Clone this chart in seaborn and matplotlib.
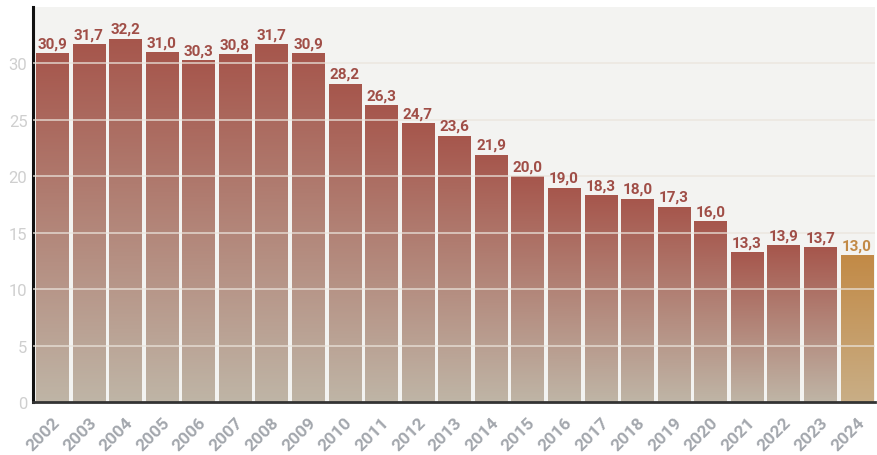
import numpy as np
import pandas as pd
import matplotlib
matplotlib.use("Agg")
import matplotlib.pyplot as plt
from matplotlib.colors import LinearSegmentedColormap
import seaborn as sns

# data
years = [str(y) for y in range(2002, 2025)]
values = [30.9, 31.7, 32.2, 31.0, 30.3, 30.8, 31.7, 30.9, 28.2, 26.3, 24.7,
          23.6, 21.9, 20.0, 19.0, 18.3, 18.0, 17.3, 16.0, 13.3, 13.9, 13.7, 13.0]
labels = [f"{v:.1f}".replace(".", ",") for v in values]

df = pd.DataFrame({"year": years, "value": values})

sns.set_theme(style="white")
plt.rcParams["font.family"] = ["Roboto", "DejaVu Sans"]

fig = plt.figure(figsize=(8.78, 4.56), dpi=100)
ax = fig.add_axes([0.0376, 0.1162, 0.959, 0.8663])
ax.set_facecolor("#f3f3f1")

sns.barplot(data=df, x="year", y="value", ax=ax, width=0.88,
            color="#a85a4f", edgecolor="none", zorder=2)

red_cmap = LinearSegmentedColormap.from_list("red", ["#bfb5a6", "#a6564c"])
gold_cmap = LinearSegmentedColormap.from_list("gold", ["#c9ae86", "#c28a46"])
grad = np.linspace(0, 1, 256).reshape(-1, 1)

for i, p in enumerate(ax.patches):
    x0, y0 = p.get_x(), p.get_y()
    w, h = p.get_width(), p.get_height()
    cmap = gold_cmap if i == len(ax.patches) - 1 else red_cmap
    im = ax.imshow(grad, cmap=cmap, origin="lower", aspect="auto",
                   extent=[x0, x0 + w, y0, y0 + h], zorder=2,
                   interpolation="bilinear")
    im.set_clip_path(p)
    p.set_facecolor("none")
    txt_col = "#c28a46" if i == len(ax.patches) - 1 else "#a04e47"
    ax.text(x0 + w / 2, y0 + h + 0.25, labels[i], ha="center", va="bottom",
            fontsize=11, fontweight="bold", color=txt_col, zorder=4)

# grid lines drawn over the bars
for yv in range(5, 35, 5):
    ax.axhline(yv, color="#ebe4dc", lw=1.2, alpha=0.8, zorder=3)

ax.set_xlim(-0.52, 22.5)
ax.set_ylim(0, 35)
ax.set_yticks(range(0, 35, 5))
ax.tick_params(axis="y", labelsize=12, colors="#cfcfcf", length=0, pad=4)
ax.tick_params(axis="x", labelsize=12.5, colors="#a3a7ad", length=0, pad=9)
for t in ax.get_xticklabels():
    t.set_rotation(45)
    t.set_ha("right")
    t.set_rotation_mode("anchor")
    t.set_fontweight("bold")
ax.set_xlabel("")
ax.set_ylabel("")

for s in ["top", "right"]:
    ax.spines[s].set_visible(False)
ax.spines["left"].set_color("#111111")
ax.spines["left"].set_linewidth(2.2)
ax.spines["bottom"].set_color("#333333")
ax.spines["bottom"].set_linewidth(2)

fig.savefig("out.png", dpi=100)
